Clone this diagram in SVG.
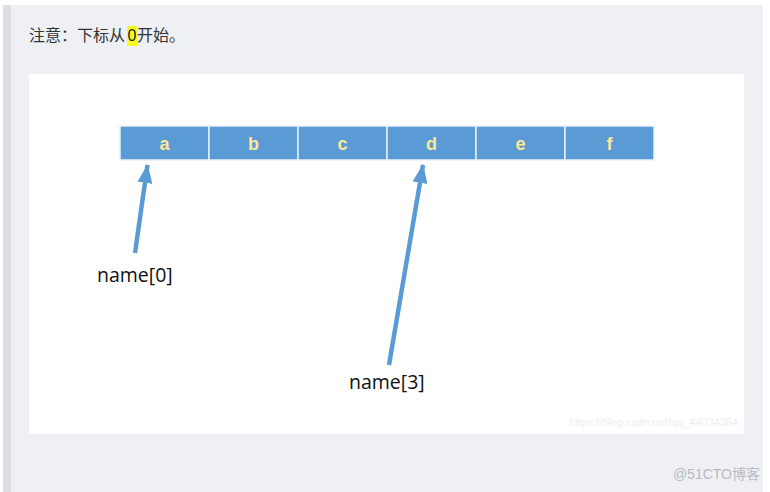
<svg xmlns="http://www.w3.org/2000/svg" width="770" height="492" viewBox="0 0 770 492">
<defs>
<style>
.cell{fill:#5b9bd5;stroke:#e8f0f8;stroke-width:1.5}
.lt{font-family:"Liberation Sans",Arial,sans-serif;font-weight:bold;font-size:18px;fill:#ffe699;text-anchor:middle}
.lbl{font-family:"Open Sans","Liberation Sans",sans-serif;font-size:19.5px;fill:#111}
.arr{stroke:#5b9bd5;stroke-width:4.5;fill:none}
.cjk{font-family:"Noto Sans CJK SC","Liberation Sans",sans-serif;font-size:16px;fill:#333}
</style>
<marker id="ah" markerWidth="19" markerHeight="15" refX="18" refY="7.5" orient="auto" markerUnits="userSpaceOnUse"><path d="M0,0 L19,7.5 L0,15 Z" fill="#5b9bd5"/></marker>
</defs>
<rect x="0" y="0" width="770" height="492" fill="#ffffff"/>
<rect x="3" y="5" width="760" height="487" fill="#eef0f4"/>
<rect x="3" y="5" width="8" height="487" fill="#dcdee3"/>
<text class="cjk" x="29" y="41">注意：下标从</text>
<rect x="127" y="26" width="10" height="20" fill="#f5ff1e"/>
<text x="127.5" y="41" font-family="'Liberation Sans',sans-serif" font-size="16" fill="#222">0</text>
<text class="cjk" x="137" y="41">开始。</text>
<rect x="29" y="74" width="715" height="360" fill="#ffffff"/>
<g id="cells">
<g id="cell-a"><rect class="cell" x="120" y="126" width="89" height="34"/><text class="lt" x="164.5" y="150">a</text></g>
<g id="cell-b"><rect class="cell" x="209" y="126" width="89" height="34"/><text class="lt" x="253.5" y="150">b</text></g>
<g id="cell-c"><rect class="cell" x="298" y="126" width="89" height="34"/><text class="lt" x="342.5" y="150">c</text></g>
<g id="cell-d"><rect class="cell" x="387" y="126" width="89" height="34"/><text class="lt" x="431.5" y="150">d</text></g>
<g id="cell-e"><rect class="cell" x="476" y="126" width="89" height="34"/><text class="lt" x="520.5" y="150">e</text></g>
<g id="cell-f"><rect class="cell" x="565" y="126" width="89" height="34"/><text class="lt" x="609.5" y="150">f</text></g>
</g>
<g id="connectors">
<line class="arr" x1="135" y1="253" x2="147.5" y2="165" marker-end="url(#ah)"/>
<line class="arr" x1="389" y1="365" x2="423" y2="165" marker-end="url(#ah)"/>
</g>
<g id="label-0"><text class="lbl" x="97" y="282">name[0]</text></g>
<g id="label-3"><text class="lbl" x="349" y="389">name[3]</text></g>
<text x="738" y="426" text-anchor="end" font-family="'Liberation Sans',sans-serif" font-size="11" fill="#eceef2">https://blog.csdn.net/qq_44034384</text>
<text x="760" y="479" text-anchor="end" font-family="'Liberation Sans','Noto Sans CJK SC',sans-serif" font-size="14" fill="#b8bbc2">@51CTO博客</text>
</svg>
